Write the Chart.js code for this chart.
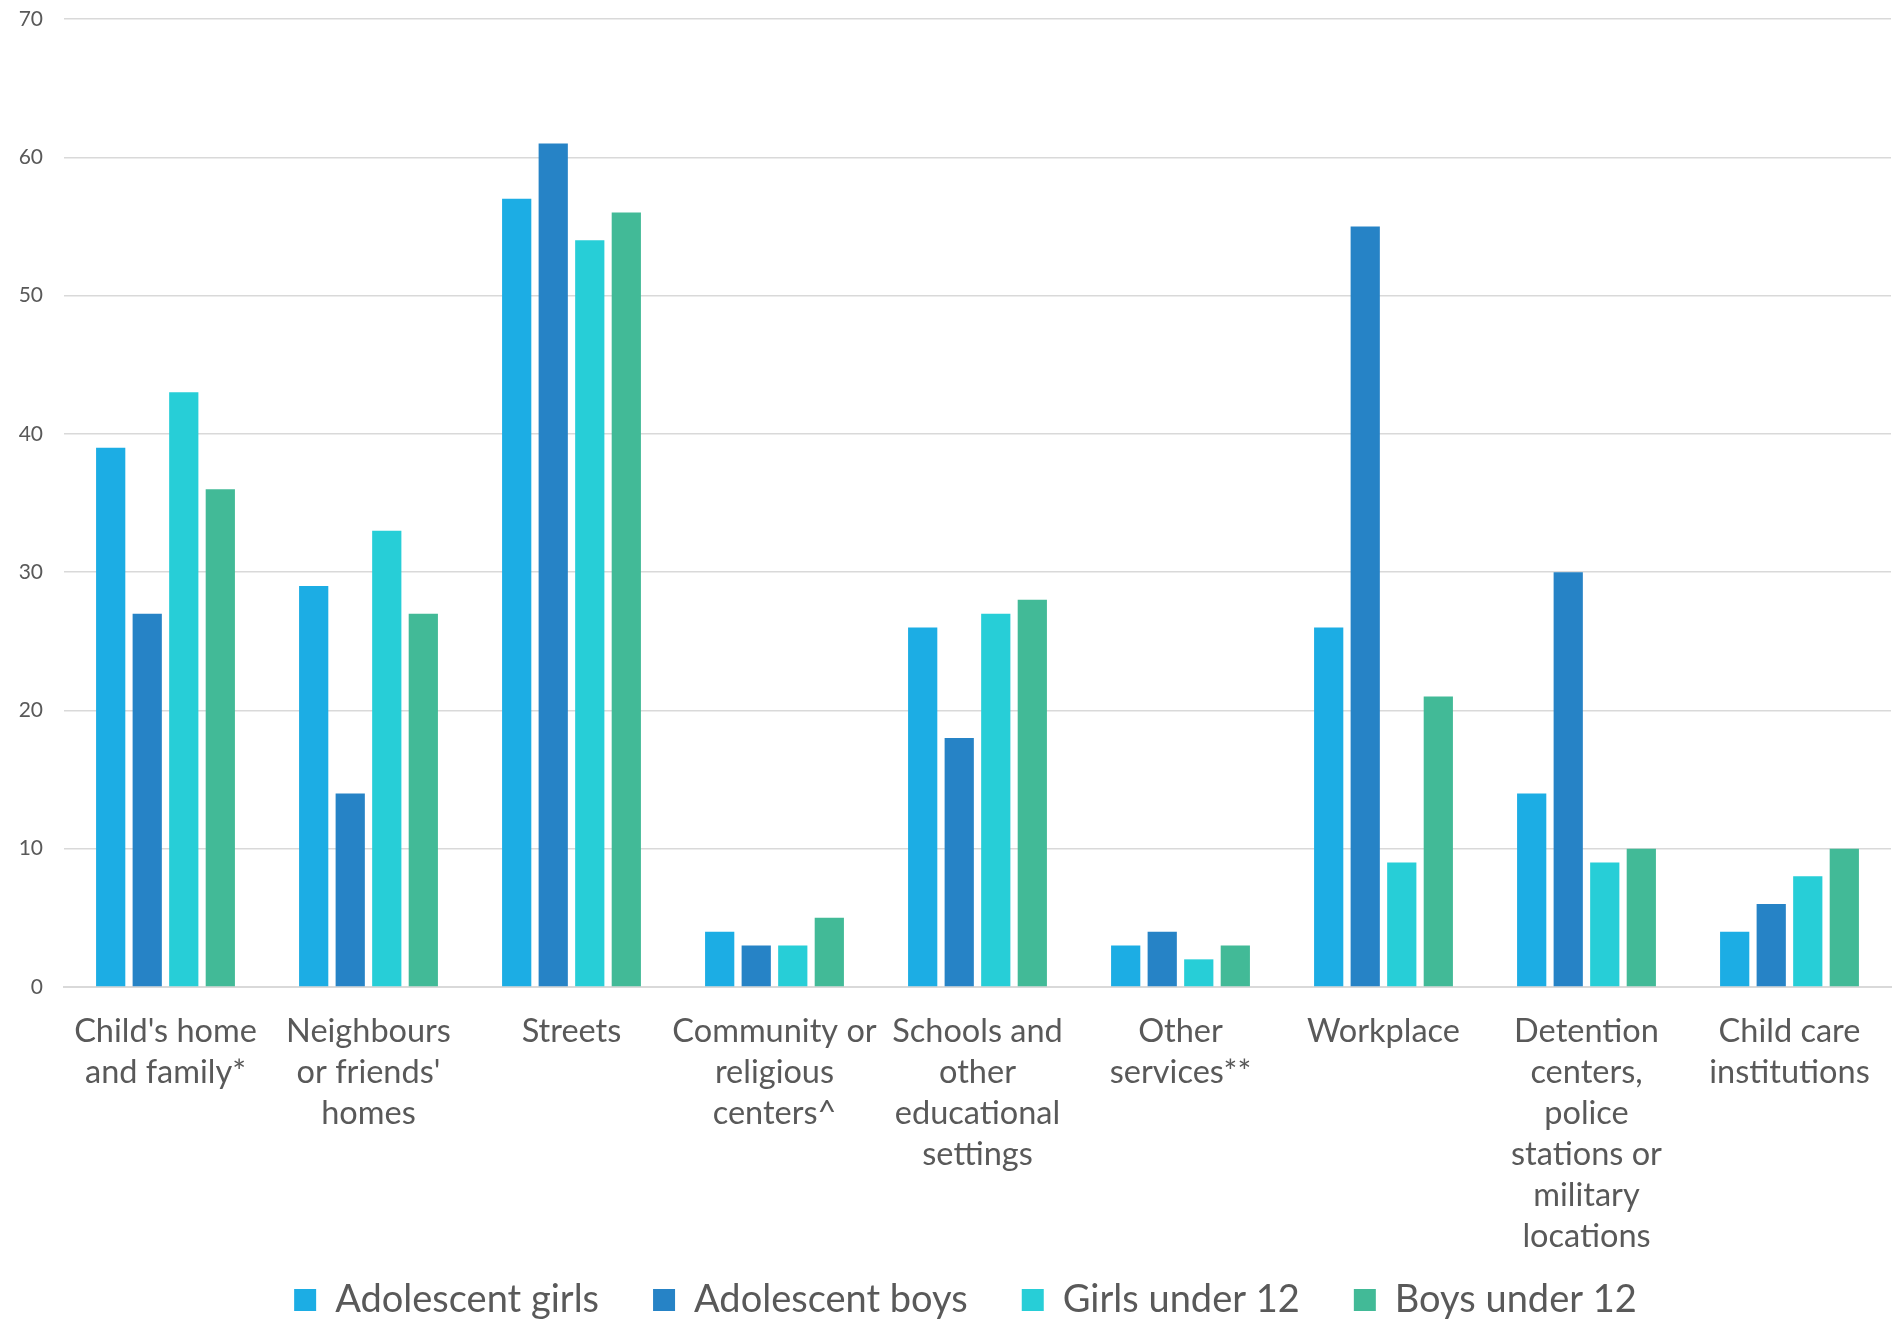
<!DOCTYPE html>
<html>
<head>
<meta charset="utf-8">
<script src="https://cdn.jsdelivr.net/npm/chart.js@4/dist/chart.umd.min.js"></script>
<style>
  html, body { margin: 0; padding: 0; background: #ffffff; }
  #wrap { width: 1895px; height: 1322px; position: relative; }
</style>
</head>
<body>
<div id="wrap"><canvas id="chart"></canvas></div>
<script>
// Where violence happens, by group (%)
const categories = [
  ["Child's home", "and family*"],
  ["Neighbours", "or friends'", "homes"],
  ["Streets"],
  ["Community or", "religious", "centers^"],
  ["Schools and", "other", "educational", "settings"],
  ["Other", "services**"],
  ["Workplace"],
  ["Detention", "centers,", "police", "stations or", "military", "locations"],
  ["Child care", "institutions"]
];

const seriesNames = ["Adolescent girls", "Adolescent boys", "Girls under 12", "Boys under 12"];

const adolescentGirls = [39, 29, 57, 4, 26, 3, 26, 14, 4];
const adolescentBoys  = [27, 14, 61, 3, 18, 4, 55, 30, 6];
const girlsUnder12    = [43, 33, 54, 3, 27, 2,  9,  9, 8];
const boysUnder12     = [36, 27, 56, 5, 28, 3, 21, 10, 10];

const yTicks = [0, 10, 20, 30, 40, 50, 60, 70];

const palette = ["#1CADE4", "#2683C6", "#27CED7", "#42BA97"];
const textColor = "#595959";
const fontFamily = "Lato, 'Open Sans', sans-serif";

const seriesValues = [adolescentGirls, adolescentBoys, girlsUnder12, boysUnder12];

const datasets = seriesNames.map((name, i) => ({
  label: name,
  data: seriesValues[i],
  backgroundColor: palette[i],
  borderWidth: 0,
  categoryPercentage: 0.72,
  barPercentage: 0.8
}));

// let tick labels spill past their axis box instead of being clipped
const noLabelClip = (axis) => { axis._computeLabelArea = () => undefined; };

new Chart(document.getElementById("chart"), {
  type: "bar",
  data: { labels: categories, datasets: datasets },
  options: {
    responsive: true,
    maintainAspectRatio: false,
    animation: false,
    layout: { padding: { top: 19, right: 4, bottom: -7, left: 40 } },
    plugins: {
      tooltip: { enabled: false },
      legend: {
        position: "bottom",
        labels: {
          color: textColor,
          font: { family: fontFamily, size: 38 },
          boxWidth: 22,
          boxHeight: 22,
          padding: 54
        }
      }
    },
    scales: {
      x: {
        grid: { display: false, drawTicks: false },
        border: { display: true, color: "#d9d9d9", width: 2 },
        ticks: {
          color: textColor,
          font: { family: fontFamily, size: 32.5, lineHeight: 1.26 },
          padding: 24,
          maxRotation: 0,
          autoSkip: false
        },
        afterFit: (axis) => {
          axis.height = 240;
          axis.paddingLeft = 0;
          axis.paddingRight = 0;
          noLabelClip(axis);
        }
      },
      y: {
        min: 0,
        max: 70,
        afterBuildTicks: (axis) => { axis.ticks = yTicks.map(v => ({ value: v })); },
        grid: { color: "#d9d9d9", lineWidth: 1.5, drawTicks: false },
        border: { display: false },
        ticks: {
          color: textColor,
          font: { family: fontFamily, size: 21 },
          padding: 21
        },
        afterFit: (axis) => {
          axis.width = 24;
          axis.paddingTop = 0;
          axis.paddingBottom = 0;
          noLabelClip(axis);
        }
      }
    }
  }
});
</script>
</body>
</html>
